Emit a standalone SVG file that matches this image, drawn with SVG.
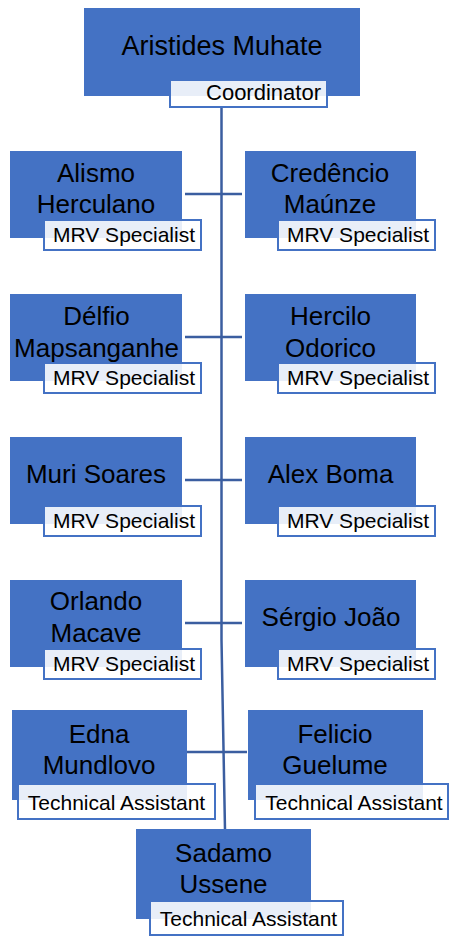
<svg xmlns="http://www.w3.org/2000/svg" width="449" height="938" viewBox="0 0 449 938">
<style>
.box{fill:#4472c4}
.lbl{fill:#ffffff;fill-opacity:0.88;stroke:#4472c4;stroke-width:2}
.name{font-family:"Liberation Sans",Arial,sans-serif;font-size:26px;fill:#000;text-anchor:middle}
.role{font-family:"Liberation Sans",Arial,sans-serif;font-size:21px;fill:#000;text-anchor:middle}
.conn{stroke:#3b5ea0;stroke-width:2.5;fill:none}
</style>
<rect width="449" height="938" fill="#ffffff"/>
<g id="connectors">
<polyline class="conn" points="221.5,108 221.5,640 225,830"/>
<line class="conn" x1="185" y1="194" x2="242" y2="194"/>
<line class="conn" x1="185" y1="337" x2="242" y2="337"/>
<line class="conn" x1="185" y1="480" x2="242" y2="480"/>
<line class="conn" x1="185" y1="623" x2="242" y2="623"/>
<line class="conn" x1="182" y1="752" x2="247" y2="752"/>
</g>
<g id="aristides">
<rect class="box" x="84" y="8" width="276" height="88"/>
<text class="name" x="222" y="55" style="font-size:27px">Aristides Muhate</text>
<rect class="lbl" x="170" y="80" width="157" height="27"/>
<text class="role" x="263.5" y="100" style="font-size:22px">Coordinator</text>
</g>
<g id="alismo">
<rect class="box" x="10" y="151" width="172" height="87"/>
<text class="name" x="96" y="182">Alismo</text>
<text class="name" x="96" y="213">Herculano</text>
<rect class="lbl" x="44" y="220" width="157" height="30"/>
<text class="role" x="124" y="242">MRV Specialist</text>
</g>
<g id="credencio">
<rect class="box" x="245" y="151" width="171" height="87"/>
<text class="name" x="330" y="182">Credêncio</text>
<text class="name" x="330" y="213">Maúnze</text>
<rect class="lbl" x="278" y="220" width="157" height="30"/>
<text class="role" x="358" y="242">MRV Specialist</text>
</g>
<g id="delfio">
<rect class="box" x="10" y="294" width="172" height="87"/>
<text class="name" x="96.5" y="325">Délfio</text>
<text class="name" x="96.5" y="357">Mapsanganhe</text>
<rect class="lbl" x="44" y="363" width="157" height="30"/>
<text class="role" x="124" y="385">MRV Specialist</text>
</g>
<g id="hercilo">
<rect class="box" x="245" y="294" width="171" height="87"/>
<text class="name" x="330.5" y="325">Hercilo</text>
<text class="name" x="330.5" y="357">Odorico</text>
<rect class="lbl" x="278" y="363" width="157" height="30"/>
<text class="role" x="358" y="385">MRV Specialist</text>
</g>
<g id="muri">
<rect class="box" x="10" y="437" width="172" height="87"/>
<text class="name" x="96" y="483">Muri Soares</text>
<rect class="lbl" x="44" y="506" width="157" height="30"/>
<text class="role" x="124" y="528">MRV Specialist</text>
</g>
<g id="alex">
<rect class="box" x="245" y="437" width="171" height="87"/>
<text class="name" x="330.5" y="483">Alex Boma</text>
<rect class="lbl" x="278" y="506" width="157" height="30"/>
<text class="role" x="358" y="528">MRV Specialist</text>
</g>
<g id="orlando">
<rect class="box" x="10" y="580" width="172" height="87"/>
<text class="name" x="96" y="610">Orlando</text>
<text class="name" x="96" y="642">Macave</text>
<rect class="lbl" x="44" y="649" width="157" height="30"/>
<text class="role" x="124" y="671">MRV Specialist</text>
</g>
<g id="sergio">
<rect class="box" x="245" y="580" width="171" height="87"/>
<text class="name" x="331" y="626">Sérgio João</text>
<rect class="lbl" x="278" y="649" width="157" height="30"/>
<text class="role" x="358" y="671">MRV Specialist</text>
</g>
<g id="edna">
<rect class="box" x="12" y="710" width="175" height="90"/>
<text class="name" x="99" y="743">Edna</text>
<text class="name" x="99" y="774">Mundlovo</text>
<rect class="lbl" x="18" y="784" width="197" height="35"/>
<text class="role" x="116.5" y="809.5">Technical Assistant</text>
</g>
<g id="felicio">
<rect class="box" x="248" y="710" width="175" height="90"/>
<text class="name" x="335" y="743">Felicio</text>
<text class="name" x="335" y="774">Guelume</text>
<rect class="lbl" x="255" y="784" width="193" height="35"/>
<text class="role" x="354" y="809.5">Technical Assistant</text>
</g>
<g id="sadamo">
<rect class="box" x="136" y="829" width="175" height="90"/>
<text class="name" x="223.5" y="862">Sadamo</text>
<text class="name" x="223.5" y="893">Ussene</text>
<rect class="lbl" x="150" y="901" width="193" height="34"/>
<text class="role" x="248.5" y="926">Technical Assistant</text>
</g>
</svg>
